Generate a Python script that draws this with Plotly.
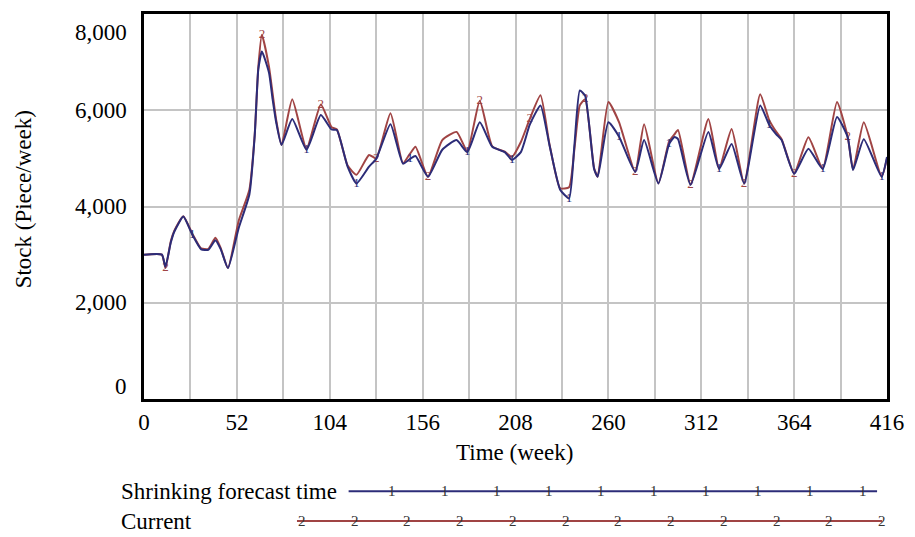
import plotly.graph_objects as go

# Simulated stock level, weekly horizon of eight years
weeks = [0, 10, 12, 15, 17, 22, 27, 32, 36, 40, 43, 47, 53, 59, 62, 64, 66, 70, 72, 74,
         77, 83, 91, 99, 105, 108, 114, 119, 126, 130, 138, 145, 149, 152, 159, 167,
         175, 181, 188, 195, 202, 206, 211, 216, 222, 227, 233, 238, 241, 244, 247,
         252, 254, 260, 266, 275, 280, 288, 294, 297, 299, 306, 316, 322, 329, 336,
         345, 350, 354, 357, 364, 372, 380, 388, 394, 397, 403, 413, 416]

shrinking_forecast = [3000, 3000, 2750, 3250, 3480, 3790, 3420, 3110, 3100, 3300, 3110, 2720,
                      3550, 4250, 5480, 6850, 7220, 6780, 6230, 5750, 5280, 5820, 5180, 5900,
                      5600, 5590, 4830, 4480, 4830, 4990, 5710, 4890, 4990, 5050, 4620, 5180,
                      5380, 5130, 5750, 5240, 5130, 4970, 5130, 5700, 6100, 5280, 4350, 4170,
                      5280, 6410, 6300, 4780, 4620, 5750, 5450, 4720, 5380, 4480, 5300, 5444,
                      5400, 4450, 5550, 4780, 5300, 4480, 6100, 5700, 5500, 5380, 4680, 5200,
                      4780, 5860, 5440, 4760, 5400, 4620, 5030]

current = [3000, 3000, 2720, 3280, 3500, 3800, 3440, 3130, 3120, 3350, 3130, 2720,
           3700, 4350, 5500, 6900, 7570, 6900, 6350, 5800, 5280, 6230, 5200, 6120,
           5650, 5600, 4850, 4660, 5070, 5000, 5940, 4900, 5100, 5240, 4620, 5380,
           5550, 5150, 6200, 5250, 5140, 5030, 5340, 5820, 6310, 5300, 4380, 4400,
           5200, 6100, 6230, 4800, 4620, 6170, 5750, 4720, 5710, 4480, 5350, 5500,
           5590, 4460, 5820, 4790, 5610, 4480, 6330, 5800, 5550, 5400, 4690, 5440,
           4790, 6170, 5450, 4770, 5750, 4620, 5000]

# Weeks at which the series number is printed on each curve
label_weeks_1 = [27, 91, 119, 149, 181, 206, 238, 266, 294, 322, 350, 380, 413]
label_weeks_2 = [12, 66, 99, 130, 159, 188, 216, 247, 275, 306, 336, 364, 394]

x_ticks = [0, 52, 104, 156, 208, 260, 312, 364, 416]
y_ticks = [0, 2000, 4000, 6000, 8000]
y_tick_text = ["0", "2,000", "4,000", "6,000", "8,000"]

BLUE = "#2c2c78"
RED = "#a04444"
FONT = "Liberation Serif"
FS = 23

W, H = 915, 537
L, R, T, B = 144, 23, 11, 138


def px_x(px):
    return (px - L) / (W - L - R)


def px_y(py):
    return (H - B - py) / (H - T - B)


fig = go.Figure()

fig.add_trace(go.Scatter(
    x=weeks, y=current, mode="lines+text", name="Current",
    line=dict(color=RED, width=2, shape="spline", smoothing=0.5),
    text=["2" if w in label_weeks_2 else "" for w in weeks],
    textposition="middle center",
    textfont=dict(family=FONT, size=13, color=RED),
    showlegend=False,
))
fig.add_trace(go.Scatter(
    x=weeks, y=shrinking_forecast, mode="lines+text", name="Shrinking forecast time",
    line=dict(color=BLUE, width=2, shape="spline", smoothing=0.5),
    text=["1" if w in label_weeks_1 else "" for w in weeks],
    textposition="middle center",
    textfont=dict(family=FONT, size=13, color=BLUE),
    showlegend=False,
))

annotations = []

# y tick labels (end labels pulled inside the frame)
for v, t in zip(y_ticks, y_tick_text):
    shift = 0
    if v == y_ticks[0]:
        shift = 13
    elif v == y_ticks[-1]:
        shift = -18
    annotations.append(dict(
        x=0, xref="paper", y=v, yref="y", text=t, showarrow=False,
        xanchor="right", yanchor="middle", xshift=-15, yshift=shift,
        font=dict(family=FONT, size=FS, color="black"),
    ))

# axis titles
annotations.append(dict(
    x=px_x(517), y=px_y(453), xref="paper", yref="paper", text="Time (week)",
    showarrow=False, xanchor="center", yanchor="middle",
    font=dict(family=FONT, size=FS, color="black"),
))
annotations.append(dict(
    x=px_x(23), y=px_y(198), xref="paper", yref="paper", text="Stock (Piece/week)",
    showarrow=False, xanchor="center", yanchor="middle", textangle=-90,
    font=dict(family=FONT, size=FS, color="black"),
))

# legend rows below the chart
legend_rows = [
    ("Shrinking forecast time", BLUE, "1", 492, 350, 882, 394, 52.6, 10),
    ("Current", RED, "2", 522, 298, 887, 303, 53.1, 12),
]
shapes = []
for label, color, num, py, x0, x1, m0, step, count in legend_rows:
    annotations.append(dict(
        x=px_x(119), y=px_y(py), xref="paper", yref="paper", text=label,
        showarrow=False, xanchor="left", yanchor="middle",
        font=dict(family=FONT, size=FS, color="black"),
    ))
    shapes.append(dict(
        type="line", xref="paper", yref="paper",
        x0=px_x(x0), x1=px_x(x1), y0=px_y(py), y1=px_y(py),
        line=dict(color=color, width=2),
    ))
    for i in range(count):
        annotations.append(dict(
            x=px_x(m0 + i * step), y=px_y(py), xref="paper", yref="paper",
            text=num, showarrow=False, xanchor="center", yanchor="middle",
            font=dict(family=FONT, size=15, color="#333333"),
        ))

fig.update_layout(
    width=W, height=H,
    margin=dict(l=L, r=R, t=T, b=B),
    plot_bgcolor="white", paper_bgcolor="white",
    annotations=annotations, shapes=shapes,
    showlegend=False,
)

fig.update_xaxes(
    range=[0, 416], tickvals=x_ticks, ticktext=[str(v) for v in x_ticks],
    showgrid=True, gridcolor="#c4c4c4", gridwidth=1.5,
    minor=dict(dtick=26, tick0=0, showgrid=True, gridcolor="#c4c4c4", gridwidth=1.5),
    showline=True, linecolor="black", linewidth=3, mirror=True,
    ticks="", zeroline=False,
    tickfont=dict(family=FONT, size=FS, color="black"),
)
fig.update_yaxes(
    range=[0, 8000], tickvals=y_ticks, showticklabels=False,
    showgrid=True, gridcolor="#c4c4c4", gridwidth=1.5,
    showline=True, linecolor="black", linewidth=3, mirror=True,
    ticks="", zeroline=False,
)

fig.write_html("out.html")
